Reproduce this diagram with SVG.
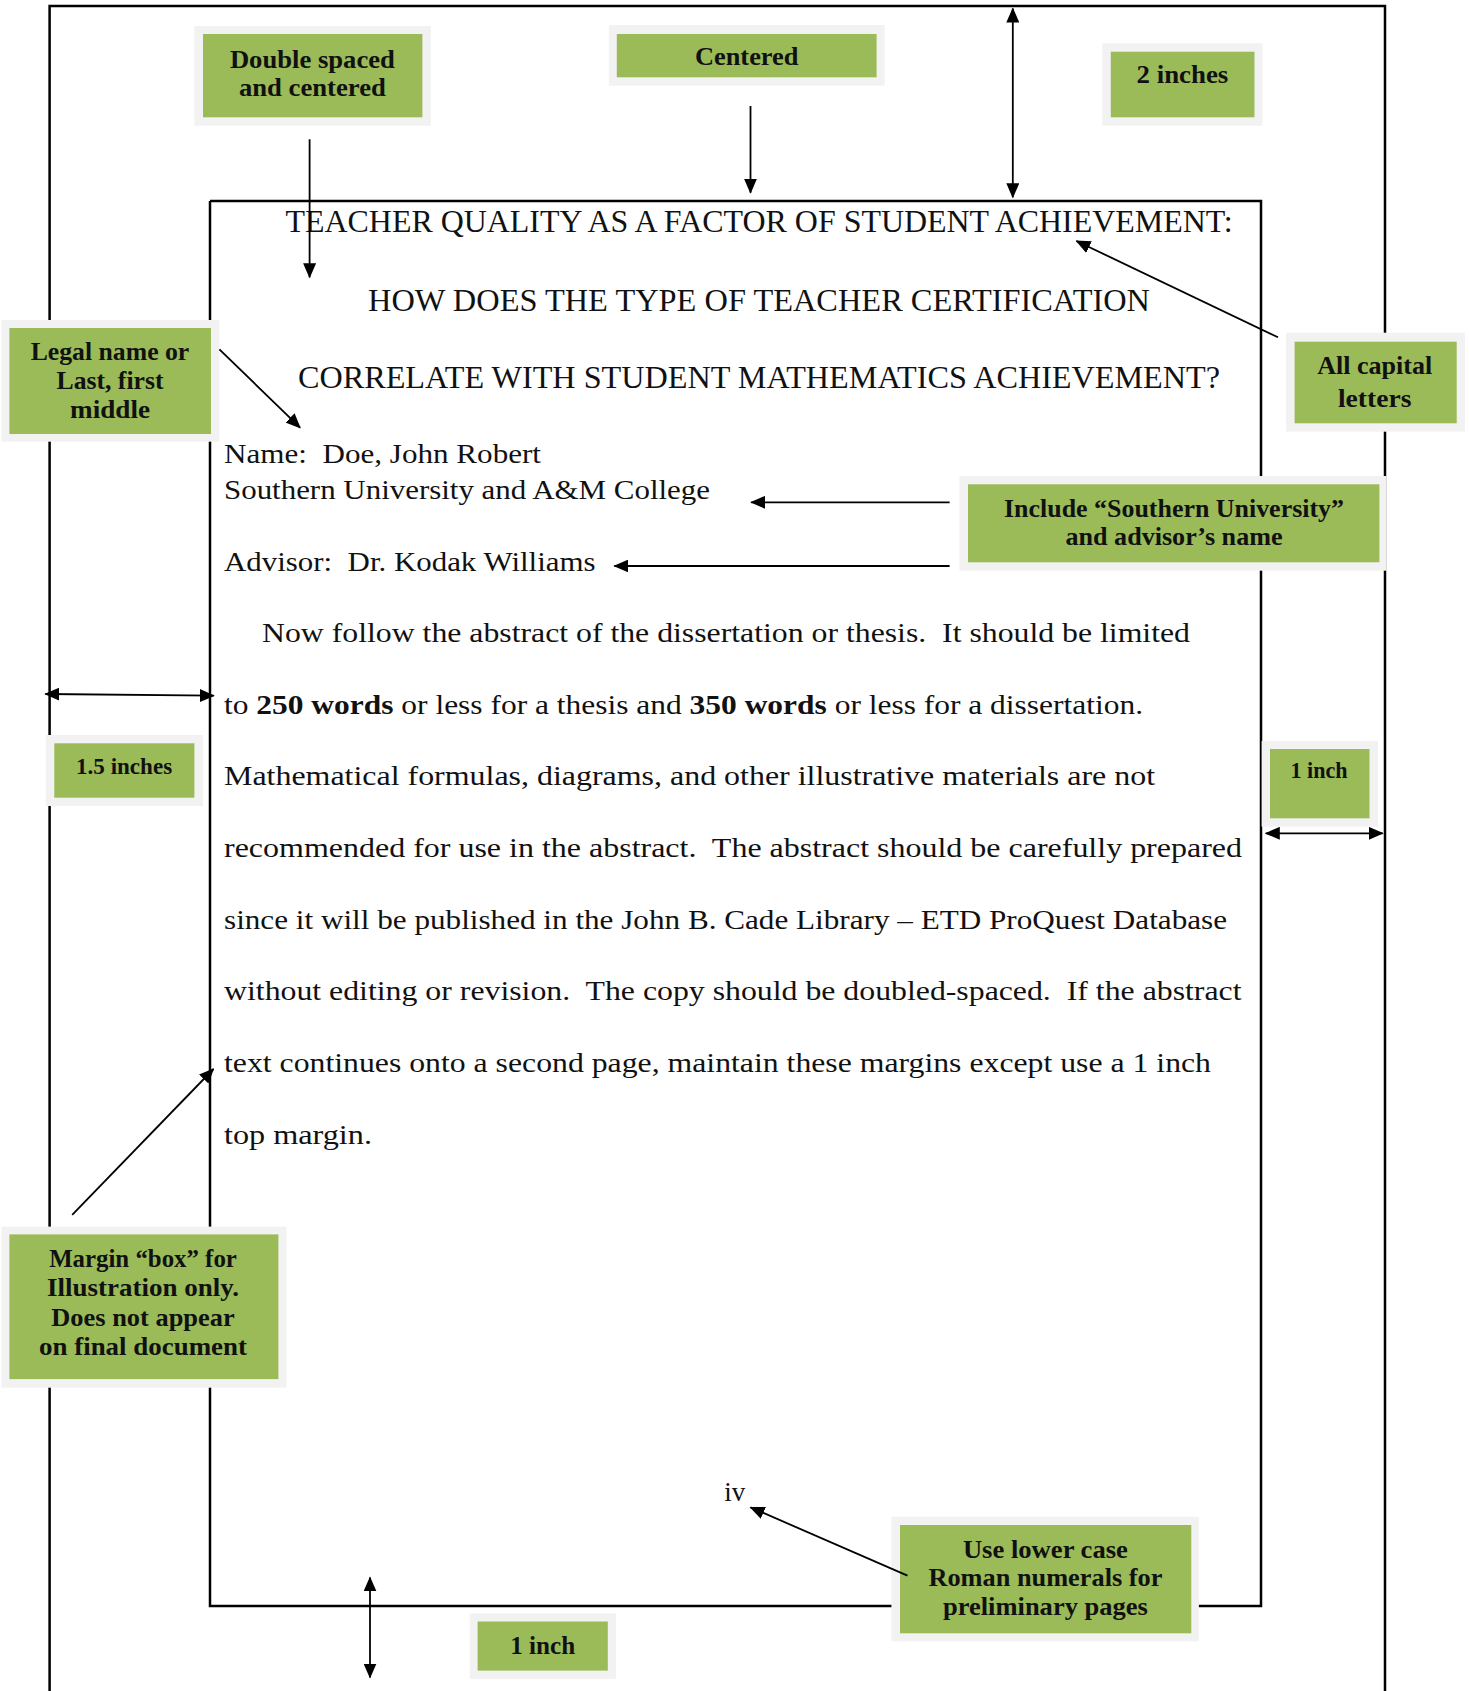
<svg xmlns="http://www.w3.org/2000/svg" width="1469" height="1691" viewBox="0 0 1469 1691">
<style>
  .page { fill: none; stroke: #000; stroke-width: 2.5; }
  .body { font-family: "Liberation Serif", "Times New Roman", serif; font-size: 28px; fill: #111; white-space: pre; }
  .title { font-family: "Liberation Serif", "Times New Roman", serif; font-size: 32px; fill: #111; white-space: pre; }
  .halo { fill: #F2F2F2; }
  .fill { fill: #9BBB59; }
  .lbl { font-family: "Liberation Serif", "Times New Roman", serif; font-weight: bold; font-size: 26px; fill: #111; text-anchor: middle; white-space: pre; }
  .sm { font-size: 23px; }
  .conn line { stroke: #000; stroke-width: 1.8; fill: none; }
  .one { marker-end: url(#arr); }
  .two { marker-start: url(#arr); marker-end: url(#arr); }
</style>
<defs>
  <marker id="arr" viewBox="0 0 15 13" refX="14" refY="6.5" markerWidth="15" markerHeight="13" markerUnits="userSpaceOnUse" orient="auto-start-reverse">
    <path d="M0,0 L15,6.5 L0,13 z" fill="#000"/>
  </marker>
</defs>
<rect width="1469" height="1691" fill="#fff"/>

<g id="page-margins">
  <polyline class="page" points="49.6,1700 49.6,6 1385,6 1385,1700"/>
  <polyline class="page" points="210,201 1261,201 1261,1606 210,1606 210,201"/>
</g>

<g id="document-text">
  <text class="title" x="285.5" y="231.7" textLength="947" lengthAdjust="spacingAndGlyphs">TEACHER QUALITY AS A FACTOR OF STUDENT ACHIEVEMENT:</text>
  <text class="title" x="368" y="310.7" textLength="782" lengthAdjust="spacingAndGlyphs">HOW DOES THE TYPE OF TEACHER CERTIFICATION</text>
  <text class="title" x="298" y="388.3" textLength="922" lengthAdjust="spacingAndGlyphs">CORRELATE WITH STUDENT MATHEMATICS ACHIEVEMENT?</text>
  <text class="body" x="224" y="463.3" textLength="317" lengthAdjust="spacingAndGlyphs">Name:  Doe, John Robert</text>
  <text class="body" x="224" y="499.3" textLength="486" lengthAdjust="spacingAndGlyphs">Southern University and A&amp;M College</text>
  <text class="body" x="224" y="570.7" textLength="371.5" lengthAdjust="spacingAndGlyphs">Advisor:  Dr. Kodak Williams</text>
  <text class="body" x="262" y="641.7" textLength="928" lengthAdjust="spacingAndGlyphs">Now follow the abstract of the dissertation or thesis.  It should be limited</text>
  <text class="body" x="224" y="714" textLength="919" lengthAdjust="spacingAndGlyphs">to <tspan font-weight="bold">250 words</tspan> or less for a thesis and <tspan font-weight="bold">350 words</tspan> or less for a dissertation.</text>
  <text class="body" x="224" y="785.3" textLength="931" lengthAdjust="spacingAndGlyphs">Mathematical formulas, diagrams, and other illustrative materials are not</text>
  <text class="body" x="224" y="857" textLength="1018" lengthAdjust="spacingAndGlyphs">recommended for use in the abstract.  The abstract should be carefully prepared</text>
  <text class="body" x="224" y="928.6" textLength="1003" lengthAdjust="spacingAndGlyphs">since it will be published in the John B. Cade Library – ETD ProQuest Database</text>
  <text class="body" x="224" y="1000" textLength="1017.5" lengthAdjust="spacingAndGlyphs">without editing or revision.  The copy should be doubled-spaced.  If the abstract</text>
  <text class="body" x="224" y="1072" textLength="987" lengthAdjust="spacingAndGlyphs">text continues onto a second page, maintain these margins except use a 1 inch</text>
  <text class="body" x="224" y="1143.5" textLength="148" lengthAdjust="spacingAndGlyphs">top margin.</text>
  <text class="body" x="724.3" y="1501" textLength="21" lengthAdjust="spacingAndGlyphs">iv</text>
</g>

<g id="callout-double-spaced">
  <rect class="halo" x="194.4" y="26" width="236.5" height="99.7"/>
  <rect class="fill" x="203" y="34" width="219.4" height="83.3"/>
  <text class="lbl" x="312.4" y="67.5" textLength="165" lengthAdjust="spacingAndGlyphs">Double spaced</text>
  <text class="lbl" x="312.4" y="96" textLength="147" lengthAdjust="spacingAndGlyphs">and centered</text>
</g>
<g id="callout-centered">
  <rect class="halo" x="608.8" y="25" width="275.8" height="60.7"/>
  <rect class="fill" x="616.8" y="34" width="259.8" height="43.3"/>
  <text class="lbl" x="746.7" y="65" textLength="103.5" lengthAdjust="spacingAndGlyphs">Centered</text>
</g>
<g id="callout-2-inches">
  <rect class="halo" x="1102.3" y="43.3" width="160.2" height="82.4"/>
  <rect class="fill" x="1110.8" y="51.7" width="143.7" height="65.6"/>
  <text class="lbl" x="1182.4" y="83" textLength="91.7" lengthAdjust="spacingAndGlyphs">2 inches</text>
</g>
<g id="callout-legal-name">
  <rect class="halo" x="1.4" y="320" width="218" height="121.7"/>
  <rect class="fill" x="9.4" y="328" width="201.6" height="106"/>
  <text class="lbl" x="110" y="359.7" textLength="158.6" lengthAdjust="spacingAndGlyphs">Legal name or</text>
  <text class="lbl" x="110" y="388.8" textLength="107" lengthAdjust="spacingAndGlyphs">Last, first</text>
  <text class="lbl" x="110" y="418" textLength="80" lengthAdjust="spacingAndGlyphs">middle</text>
</g>
<g id="callout-all-capital">
  <rect class="halo" x="1286" y="332.7" width="179" height="99"/>
  <rect class="fill" x="1294.6" y="341.7" width="162.1" height="81.6"/>
  <text class="lbl" x="1374.7" y="373.5" textLength="115" lengthAdjust="spacingAndGlyphs">All capital</text>
  <text class="lbl" x="1374.7" y="407.2" textLength="73.5" lengthAdjust="spacingAndGlyphs">letters</text>
</g>
<g id="callout-include">
  <rect class="halo" x="959.5" y="476" width="427" height="94.7"/>
  <rect class="fill" x="968" y="484.3" width="411.4" height="78"/>
  <text class="lbl" x="1174" y="516.5" textLength="340" lengthAdjust="spacingAndGlyphs">Include “Southern University”</text>
  <text class="lbl" x="1174" y="545" textLength="217" lengthAdjust="spacingAndGlyphs">and advisor’s name</text>
</g>
<g id="callout-1-inch-right">
  <rect class="halo" x="1261.6" y="741" width="116.4" height="85.7"/>
  <rect class="fill" x="1270" y="749" width="99.5" height="69.3"/>
  <text class="lbl sm" x="1319" y="778" textLength="57" lengthAdjust="spacingAndGlyphs">1 inch</text>
</g>
<g id="callout-1-5-inches">
  <rect class="halo" x="45.8" y="735" width="157.2" height="71"/>
  <rect class="fill" x="54.3" y="743.3" width="140.1" height="54.4"/>
  <text class="lbl sm" x="124.1" y="773.5" textLength="96" lengthAdjust="spacingAndGlyphs">1.5 inches</text>
</g>
<g id="callout-margin-box">
  <rect class="halo" x="1.4" y="1226.6" width="285.1" height="161.1"/>
  <rect class="fill" x="9.4" y="1234.4" width="269" height="144.7"/>
  <text class="lbl" x="143" y="1266.7" textLength="187.7" lengthAdjust="spacingAndGlyphs">Margin “box” for</text>
  <text class="lbl" x="143" y="1295.6" textLength="192" lengthAdjust="spacingAndGlyphs">Illustration only.</text>
  <text class="lbl" x="143" y="1326" textLength="183.4" lengthAdjust="spacingAndGlyphs">Does not appear</text>
  <text class="lbl" x="143" y="1355" textLength="208" lengthAdjust="spacingAndGlyphs">on final document</text>
</g>
<g id="callout-lower-case">
  <rect class="halo" x="891.4" y="1516.7" width="307.5" height="124.6"/>
  <rect class="fill" x="900" y="1525" width="291.3" height="108.3"/>
  <text class="lbl" x="1045.4" y="1557.5" textLength="165" lengthAdjust="spacingAndGlyphs">Use lower case</text>
  <text class="lbl" x="1045.4" y="1586.3" textLength="234" lengthAdjust="spacingAndGlyphs">Roman numerals for</text>
  <text class="lbl" x="1045.4" y="1615" textLength="205" lengthAdjust="spacingAndGlyphs">preliminary pages</text>
</g>
<g id="callout-1-inch-bottom">
  <rect class="halo" x="469.6" y="1613.4" width="146.3" height="65.4"/>
  <rect class="fill" x="477.6" y="1621.5" width="130.2" height="49.1"/>
  <text class="lbl" x="542.7" y="1654" textLength="65" lengthAdjust="spacingAndGlyphs">1 inch</text>
</g>

<g id="connectors" class="conn">
  <line class="one" x1="309.6" y1="139.3" x2="309.6" y2="277.3"/>
  <line class="one" x1="750.5" y1="106" x2="750.5" y2="192.7"/>
  <line class="two" x1="1012.8" y1="8.5" x2="1012.8" y2="197.3"/>
  <line class="one" x1="219.4" y1="349.3" x2="300.1" y2="427.7"/>
  <line class="one" x1="1278" y1="337.3" x2="1076.4" y2="241"/>
  <line class="one" x1="949.6" y1="502.3" x2="751.2" y2="502.3"/>
  <line class="one" x1="949.6" y1="566" x2="614.4" y2="566"/>
  <line class="two" x1="45.3" y1="694" x2="213.8" y2="695.7"/>
  <line class="two" x1="1265.8" y1="833.3" x2="1382.7" y2="833.3"/>
  <line class="one" x1="72.2" y1="1214.8" x2="213.5" y2="1069"/>
  <line class="one" x1="907.5" y1="1575.7" x2="750.5" y2="1507.3"/>
  <line class="two" x1="370" y1="1577.4" x2="370" y2="1677.6"/>
</g>
</svg>
